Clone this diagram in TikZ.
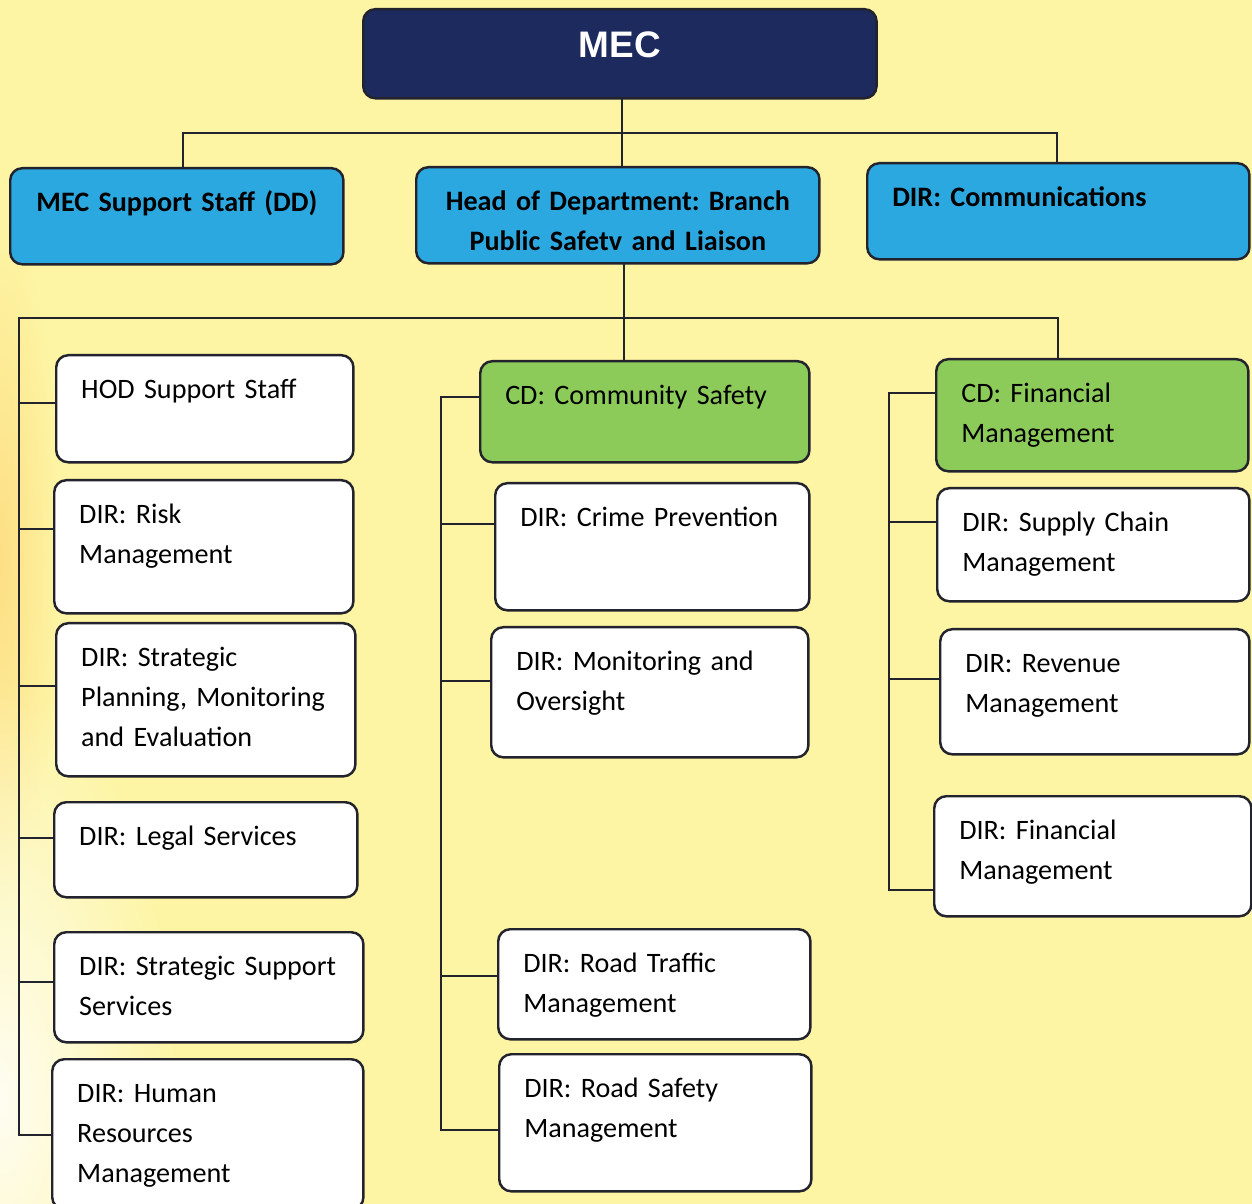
\documentclass[tikz,border=0pt]{standalone}
\usepackage{fontspec}
\setmainfont{Carlito}
\newfontfamily\arialfont{Liberation Sans}
\usetikzlibrary{fadings}

\definecolor{bgyellow}{HTML}{FDF5A4}
\definecolor{mecnavy}{HTML}{1C2A5E}
\definecolor{hodblue}{HTML}{2CA8E0}
\definecolor{cdgreen}{HTML}{8CCB5A}
\definecolor{edgegray}{HTML}{23232E}

\tikzfading[name=softspot, inner color=transparent!15, outer color=transparent!100]

\tikzset{
  orgbox/.style 2 args={draw=edgegray, line width=0.7pt, rounded corners=0.12cm,
    anchor=north west, inner xsep=0.25cm, inner ysep=0.13cm, text height=0.30cm,
    text width=#1, text depth=#2, align=left,
    font=\frenchspacing\fontsize{8}{11.4}\selectfont},
  whitebox/.style 2 args={orgbox={#1}{#2}, fill=white},
  greenbox/.style 2 args={orgbox={#1}{#2}, fill=cdgreen},
  bluebox/.style 2 args={orgbox={#1}{#2}, fill=hodblue,
    font=\frenchspacing\fontsize{8}{11.4}\selectfont\bfseries},
  topbox/.style 2 args={orgbox={#1}{#2}, fill=mecnavy, text=white, align=center,
    text height=0.35cm, font=\arialfont\bfseries\fontsize{10.5}{12}\selectfont}
}

\begin{document}
\begin{tikzpicture}[x=0.01cm, y=-0.01cm,
    every edge/.style={draw=edgegray, line width=0.6pt, line cap=rect}]
  % background
  \useasboundingbox (0,0) rectangle (1252,1204);
  \begin{scope}
    \clip (0,0) rectangle (1252,1204);
    \fill[bgyellow] (0,0) rectangle (1252,1204);
    \fill[orange!22!bgyellow, path fading=softspot] (0,560) ellipse (0.6cm and 3.4cm);
    \fill[white, path fading=softspot] (0,1100) ellipse (1.8cm and 4.2cm);
  \end{scope}

  % top levels
  \node[topbox={4.63cm}{0.28cm}] (mec) at (362,8) {MEC};
  \node[bluebox={2.83cm}{0.40cm}, align=center] (mss) at (9,167) {MEC Support Staff (DD)};
  \node[bluebox={3.53cm}{0.40cm}, align=center] (hod) at (415,166)
    {Head of Department: Branch\\Public Safetv and Liaison};
  \node[bluebox={3.32cm}{0.40cm}] (comm) at (866,162) {DIR: Communications};

  % left column
  \node[whitebox={2.47cm}{0.51cm}] (hss) at (55,354) {HOD Support Staff};
  \node[whitebox={2.49cm}{0.77cm}] (risk) at (53,479) {DIR: Risk\\Management};
  \node[whitebox={2.49cm}{0.97cm}] (spme) at (55,622)
    {DIR: Strategic\\Planning, Monitoring\\and Evaluation};
  \node[whitebox={2.53cm}{0.39cm}] (legal) at (53,801) {DIR: Legal Services};
  \node[whitebox={2.59cm}{0.54cm}] (sss) at (53,931) {DIR: Strategic Support\\Services};
  \node[whitebox={2.61cm}{0.94cm}] (hr) at (51,1058) {DIR: Human\\Resources\\Management};

  % middle column
  \node[greenbox={2.79cm}{0.45cm}] (cdcs) at (479,360) {CD: Community Safety};
  \node[whitebox={2.64cm}{0.71cm}] (crime) at (494,482) {DIR: Crime Prevention};
  \node[whitebox={2.67cm}{0.74cm}] (mo) at (490,626) {DIR: Monitoring and\\Oversight};
  \node[whitebox={2.62cm}{0.54cm}] (rtm) at (497,928) {DIR: Road Traffic\\Management};
  \node[whitebox={2.62cm}{0.81cm}] (rsm) at (498,1053) {DIR: Road Safety\\Management};

  % right column
  \node[greenbox={2.62cm}{0.56cm}] (cdfm) at (935,358) {CD: Financial\\Management};
  \node[whitebox={2.62cm}{0.57cm}] (scm) at (936,487) {DIR: Supply Chain\\Management};
  \node[whitebox={2.59cm}{0.69cm}] (rev) at (939,628) {DIR: Revenue\\Management};
  \node[whitebox={2.67cm}{0.64cm}] (fm) at (933,795) {DIR: Financial\\Management};

  % MEC bus
  \coordinate (t0) at (622,133);
  \coordinate (t1) at (183,133);
  \coordinate (t2) at (1057,133);
  \path [-](t0 |- mec.south) edge (t0);
  \path [-](t1) edge (t2);
  \path [-](t1) edge (t1 |- mss.north);
  \path [-](t0) edge (t0 |- hod.north);
  \path [-](t2) edge (t2 |- comm.north);

  % HOD bus
  \coordinate (h0) at (624,318);
  \coordinate (h1) at (19,318);
  \coordinate (h2) at (1058,318);
  \path [-](h0 |- hod.south) edge (h0);
  \path [-](h1) edge (h2);
  \path [-](h0) edge (h0 |- cdcs.north);
  \path [-](h2) edge (h2 |- cdfm.north);

  % left spine
  \coordinate (l1) at (19,403);
  \coordinate (l2) at (19,529);
  \coordinate (l3) at (19,686);
  \coordinate (l4) at (19,838);
  \coordinate (l5) at (19,982);
  \coordinate (l6) at (19,1135);
  \path [-](h1) edge (l6);
  \path [-](l1) edge (l1 -| hss.west);
  \path [-](l2) edge (l2 -| risk.west);
  \path [-](l3) edge (l3 -| spme.west);
  \path [-](l4) edge (l4 -| legal.west);
  \path [-](l5) edge (l5 -| sss.west);
  \path [-](l6) edge (l6 -| hr.west);

  % middle spine
  \coordinate (m1) at (441,397);
  \coordinate (m2) at (441,524);
  \coordinate (m3) at (441,681);
  \coordinate (m4) at (441,976);
  \coordinate (m5) at (441,1130);
  \path [-](m1) edge (m5);
  \path [-](m1) edge (m1 -| cdcs.west);
  \path [-](m2) edge (m2 -| crime.west);
  \path [-](m3) edge (m3 -| mo.west);
  \path [-](m4) edge (m4 -| rtm.west);
  \path [-](m5) edge (m5 -| rsm.west);

  % right spine
  \coordinate (r1) at (889,393);
  \coordinate (r2) at (889,522);
  \coordinate (r3) at (889,679);
  \coordinate (r4) at (889,890);
  \path [-](r1) edge (r4);
  \path [-](r1) edge (r1 -| cdfm.west);
  \path [-](r2) edge (r2 -| scm.west);
  \path [-](r3) edge (r3 -| rev.west);
  \path [-](r4) edge (r4 -| fm.west);
\end{tikzpicture}
\end{document}
